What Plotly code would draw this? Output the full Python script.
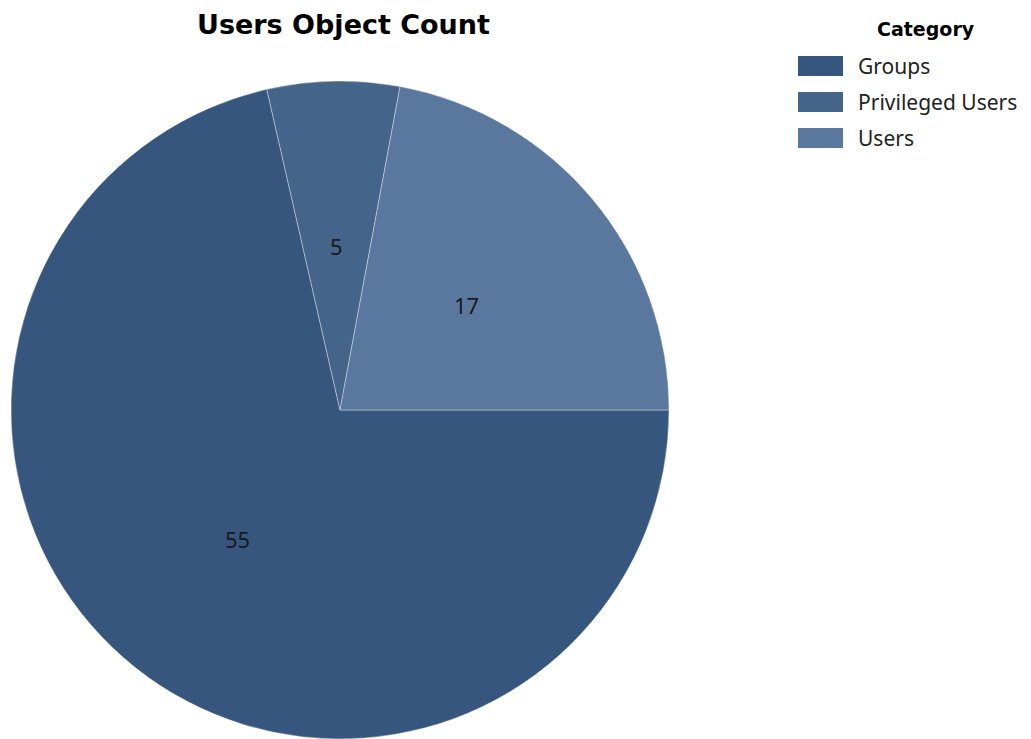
import math
import plotly.graph_objects as go

categories = ["Groups", "Privileged Users", "Users"]
counts = [55, 5, 17]
colors = ["#36567e", "#45648a", "#5a789e"]
chart_title = "Users Object Count"
legend_title = "Category"

W, H = 1031, 739
OFF = 8  # page body margin

# pie placement (page pixels)
px0, px1 = 10, 670
py_top, py_bot = 81, 739
dom_x = [(px0 - OFF) / W, (px1 - OFF) / W]
dom_y = [(H - (py_bot - OFF)) / H, 1 - (py_top - OFF) / H]

fig = go.Figure(go.Pie(
    labels=categories,
    values=counts,
    sort=False,
    direction="clockwise",
    rotation=90,
    marker=dict(colors=colors, line=dict(color="rgba(255,255,255,0.35)", width=1)),
    textinfo="none",
    domain=dict(x=dom_x, y=dom_y),
    showlegend=False,
    hoverinfo="label+value+percent",
))

# value labels at half radius along each slice's mid angle
cx = (dom_x[0] + dom_x[1]) / 2 * W
cy = (1 - (dom_y[0] + dom_y[1]) / 2) * H
R = min((dom_x[1] - dom_x[0]) * W, (dom_y[1] - dom_y[0]) * H) / 2
total = sum(counts)
annotations = []
start = 90.0  # degrees clockwise from north
for v in counts:
    span = v / total * 360
    mid = math.radians(start + span / 2)
    lx = cx + 0.5 * R * math.sin(mid)
    ly = cy - 0.5 * R * math.cos(mid)
    annotations.append(dict(text=str(v), x=lx / W, y=1 - ly / H, xref="paper", yref="paper",
                            showarrow=False, xanchor="center", yanchor="middle",
                            font=dict(family="Noto Sans", size=22, color="#1a1a1a")))
    start += span

annotations += [
    dict(text="<b>" + chart_title + "</b>", x=(343 - OFF) / W, y=1 - (25 - OFF) / H,
         xref="paper", yref="paper", showarrow=False, xanchor="center", yanchor="middle",
         font=dict(family="DejaVu Sans", size=27, color="#000000")),
    dict(text="<b>" + legend_title + "</b>", x=(926 - OFF) / W, y=1 - (29 - OFF) / H,
         xref="paper", yref="paper", showarrow=False, xanchor="center", yanchor="middle",
         font=dict(family="DejaVu Sans", size=19, color="#000000")),
]
shapes = []
for i, (name, col) in enumerate(zip(categories, colors)):
    iy = 66 + 36 * i - OFF
    shapes.append(dict(type="rect", xref="paper", yref="paper",
                       x0=(798 - OFF) / W, x1=(843 - OFF) / W,
                       y0=1 - (iy - 10) / H, y1=1 - (iy + 10) / H,
                       fillcolor=col, line=dict(width=0)))
    annotations.append(dict(text=name, x=(856 - OFF) / W, y=1 - iy / H, xref="paper", yref="paper",
                            showarrow=False, xanchor="left", yanchor="middle",
                            font=dict(family="Noto Sans", size=21, color="#222222")))

fig.update_layout(
    width=W, height=H,
    margin=dict(l=0, r=0, t=0, b=0),
    paper_bgcolor="white", plot_bgcolor="white",
    shapes=shapes, annotations=annotations,
)

fig.write_html("out.html")
